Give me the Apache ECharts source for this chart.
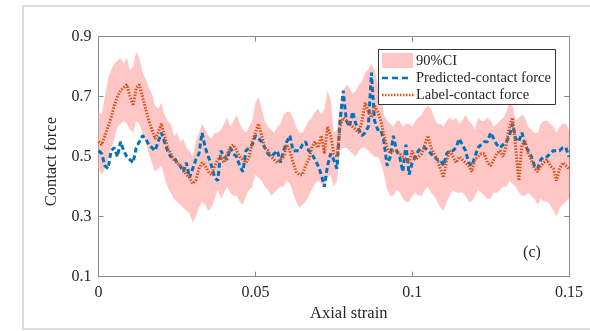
<!DOCTYPE html>
<html><head><meta charset="utf-8">
<script src="https://cdn.jsdelivr.net/npm/echarts@6/dist/echarts.min.js"></script>
<style>html,body{margin:0;padding:0;background:#fff}#c{width:590px;height:331px}</style>
</head><body><div id="c"></div>
<script>
// Axial strain sampled every 0.001 from 0 to 0.15
const STRAIN_STEP = 0.001;

const labelForce = [
0.55,0.54,0.57,0.60,0.63,0.67,0.70,0.72,0.73,0.74,0.70,0.67,0.73,0.74,0.70,0.66,0.62,0.59,0.56,0.58,0.61,0.57,0.53,0.51,0.49,0.48,0.47,0.46,0.44,0.43,0.41,0.42,0.46,0.48,0.47,0.45,0.44,0.47,
0.49,0.50,0.48,0.51,0.53,0.54,0.52,0.50,0.49,0.48,0.50,0.55,0.58,0.61,0.57,0.53,0.52,0.50,0.49,0.48,0.49,0.50,0.54,0.52,0.48,0.45,0.44,0.44,0.47,0.49,0.53,0.55,0.53,0.57,0.51,0.60,0.57,
0.51,0.50,0.60,0.63,0.62,0.61,0.60,0.59,0.58,0.62,0.68,0.65,0.63,0.67,0.65,0.62,0.57,0.53,0.51,0.52,0.52,0.51,0.50,0.49,0.48,0.52,0.49,0.50,0.51,0.54,0.57,0.53,0.51,0.49,0.46,0.43,0.49,0.52,
0.50,0.48,0.50,0.49,0.48,0.47,0.45,0.49,0.50,0.51,0.51,0.48,0.47,0.49,0.51,0.52,0.50,0.54,0.60,0.63,0.53,0.42,0.54,0.55,0.51,0.49,0.46,0.45,0.47,0.48,0.49,0.47,0.46,0.42,0.46,0.48,0.47,0.46
];

const predictedForce = [
0.52,0.51,0.47,0.46,0.52,0.53,0.50,0.55,0.52,0.50,0.49,0.48,0.53,0.55,0.57,0.56,0.54,0.53,0.52,0.55,0.58,0.55,0.52,0.50,0.50,0.48,0.47,0.45,0.48,0.43,0.46,0.49,0.51,0.58,0.53,0.50,0.47,0.43,
0.42,0.52,0.50,0.49,0.53,0.51,0.50,0.47,0.45,0.52,0.53,0.54,0.57,0.56,0.55,0.53,0.51,0.50,0.51,0.52,0.48,0.52,0.55,0.57,0.52,0.52,0.52,0.54,0.55,0.52,0.51,0.49,0.47,0.44,0.40,0.47,0.51,
0.49,0.46,0.62,0.72,0.62,0.60,0.65,0.61,0.59,0.57,0.58,0.60,0.78,0.62,0.59,0.59,0.55,0.47,0.50,0.57,0.52,0.50,0.45,0.54,0.44,0.48,0.50,0.52,0.53,0.53,0.52,0.51,0.50,0.49,0.49,0.47,0.51,0.52,
0.52,0.53,0.56,0.54,0.52,0.48,0.47,0.50,0.53,0.54,0.55,0.55,0.58,0.56,0.54,0.53,0.54,0.55,0.57,0.61,0.56,0.55,0.58,0.54,0.52,0.50,0.47,0.46,0.49,0.50,0.50,0.51,0.52,0.52,0.52,0.53,0.53,0.50
];

const ciUpper = [
0.65,0.64,0.70,0.76,0.79,0.81,0.82,0.83,0.81,0.83,0.79,0.80,0.85,0.83,0.78,0.76,0.73,0.71,0.67,0.66,0.68,0.64,0.62,0.61,0.57,0.58,0.55,0.56,0.53,0.52,0.50,0.55,0.58,0.61,0.59,0.57,0.56,0.58,
0.58,0.59,0.61,0.63,0.60,0.62,0.64,0.61,0.59,0.58,0.60,0.62,0.68,0.70,0.66,0.62,0.60,0.59,0.58,0.60,0.61,0.64,0.65,0.65,0.63,0.60,0.58,0.58,0.60,0.62,0.63,0.65,0.66,0.64,0.66,0.72,0.69,
0.58,0.59,0.67,0.72,0.74,0.73,0.71,0.72,0.74,0.75,0.78,0.79,0.81,0.79,0.74,0.70,0.64,0.62,0.61,0.60,0.62,0.62,0.60,0.61,0.61,0.60,0.62,0.63,0.64,0.66,0.67,0.66,0.63,0.61,0.61,0.60,0.62,0.63,
0.62,0.63,0.61,0.62,0.64,0.62,0.61,0.59,0.63,0.62,0.62,0.63,0.62,0.60,0.61,0.62,0.63,0.65,0.68,0.67,0.62,0.63,0.64,0.63,0.60,0.59,0.58,0.58,0.61,0.62,0.62,0.61,0.60,0.58,0.60,0.61,0.61,0.59
];

const ciLower = [
0.46,0.44,0.46,0.49,0.53,0.56,0.60,0.61,0.62,0.61,0.59,0.58,0.62,0.61,0.58,0.55,0.51,0.48,0.45,0.46,0.47,0.43,0.40,0.38,0.36,0.35,0.34,0.33,0.32,0.31,0.28,0.30,0.33,0.35,0.34,0.32,0.33,0.36,
0.39,0.36,0.38,0.40,0.38,0.37,0.37,0.35,0.34,0.37,0.39,0.40,0.44,0.43,0.42,0.40,0.39,0.37,0.38,0.39,0.40,0.40,0.42,0.41,0.38,0.35,0.33,0.34,0.35,0.37,0.39,0.41,0.42,0.41,0.40,0.43,0.44,
0.40,0.42,0.52,0.53,0.53,0.52,0.51,0.50,0.52,0.53,0.53,0.52,0.51,0.50,0.50,0.48,0.44,0.39,0.37,0.37,0.39,0.38,0.36,0.35,0.35,0.37,0.38,0.37,0.37,0.39,0.40,0.38,0.37,0.35,0.33,0.32,0.35,0.37,
0.39,0.38,0.38,0.38,0.37,0.35,0.35,0.37,0.39,0.38,0.37,0.36,0.36,0.38,0.38,0.39,0.40,0.40,0.42,0.41,0.40,0.38,0.37,0.37,0.38,0.37,0.36,0.34,0.36,0.35,0.35,0.34,0.32,0.30,0.33,0.34,0.35,0.36
];

const yTickValues = [0.1, 0.3, 0.5, 0.7, 0.9];
const legendLabels = ['90%CI', 'Predicted-contact force', 'Label-contact force'];

const FONT = 'Liberation Serif';
const TEXT = '#262626';
const AXIS = '#8a8a8a';
const CI_COLOR = '#ffc6c6';
const BLUE = '#0072bd';
const ORANGE = '#d95319';

const xs = labelForce.map((_, i) => +(i * STRAIN_STEP).toFixed(3));
const pairs = arr => xs.map((x, i) => [x, arr[i]]);

const chart = echarts.init(document.getElementById('c'), null, {renderer: 'canvas'});

const axisCommon = {
  axisLine: {show: true, onZero: false, lineStyle: {color: AXIS, width: 1}},
  axisTick: {show: true, inside: true, length: 5, lineStyle: {color: AXIS}},
  splitLine: {show: false}
};

function renderBand(params, api) {
  if (params.dataIndexInside !== 0) return null;
  const pts = [];
  for (let i = 0; i < xs.length; i++) pts.push(api.coord([xs[i], ciUpper[i]]));
  for (let i = xs.length - 1; i >= 0; i--) pts.push(api.coord([xs[i], ciLower[i]]));
  return {
    type: 'polygon',
    shape: {points: pts},
    style: {fill: CI_COLOR, stroke: null},
    silent: true
  };
}

chart.setOption({
  animation: false,
  backgroundColor: '#fff',
  grid: {left: 98.6, right: 21, top: 36.7, bottom: 54.3},
  xAxis: [
    Object.assign({}, axisCommon, {
      type: 'value', min: 0, max: 0.15, interval: 0.05, position: 'bottom',
      axisLabel: {color: TEXT, fontFamily: FONT, fontSize: 16, margin: 8},
      name: 'Axial strain', nameLocation: 'middle', nameGap: 24,
      nameTextStyle: {color: TEXT, fontFamily: FONT, fontSize: 16.5, padding: [0, 0, 0, 30]}
    }),
    Object.assign({}, axisCommon, {
      type: 'value', min: 0, max: 0.15, interval: 0.05, position: 'top',
      axisLabel: {show: false}
    })
  ],
  yAxis: [
    Object.assign({}, axisCommon, {
      type: 'value', min: 0.1, max: 0.9, interval: 0.1, position: 'left',
      axisTick: {show: true, inside: true, length: 5, lineStyle: {color: AXIS}, customValues: yTickValues},
      axisLabel: {color: TEXT, fontFamily: FONT, fontSize: 16, margin: 7, customValues: yTickValues},
      name: 'Contact force', nameLocation: 'middle', nameGap: 38,
      nameTextStyle: {color: TEXT, fontFamily: FONT, fontSize: 16.5, padding: [0, 10, 0, 0]}
    }),
    Object.assign({}, axisCommon, {
      type: 'value', min: 0.1, max: 0.9, interval: 0.1, position: 'right',
      axisTick: {show: true, inside: true, length: 5, lineStyle: {color: AXIS}, customValues: yTickValues},
      axisLabel: {show: false}
    })
  ],
  series: [
    {name: legendLabels[0], type: 'custom', renderItem: renderBand, data: [[0]],
     clip: true, silent: true, z: 1},
    {name: legendLabels[1], type: 'line', data: pairs(predictedForce), symbol: 'none',
     lineStyle: {color: BLUE, width: 3, type: [5, 3]}, z: 3},
    {name: legendLabels[2], type: 'line', data: pairs(labelForce), symbol: 'none',
     lineStyle: {color: ORANGE, width: 3, type: [1.5, 1.5]}, z: 4}
  ],
  graphic: [
    {type: 'rect', z: 0, silent: true, shape: {x: 23, y: 6, width: 600, height: 323},
     style: {fill: null, stroke: '#dcdcdc', lineWidth: 2}},
    {type: 'rect', z: 100, shape: {x: 378.5, y: 49.5, width: 177, height: 55},
     style: {fill: '#fff', stroke: '#333', lineWidth: 1}},
    {type: 'rect', z: 101, shape: {x: 382, y: 53, width: 31, height: 15},
     style: {fill: CI_COLOR}},
    {type: 'line', z: 101, shape: {x1: 382, y1: 78, x2: 410, y2: 78},
     style: {stroke: BLUE, lineWidth: 2.5, lineDash: [6, 4]}},
    {type: 'line', z: 101, shape: {x1: 382, y1: 95, x2: 414, y2: 95},
     style: {stroke: ORANGE, lineWidth: 2.5, lineDash: [1.5, 1.5]}},
    {type: 'text', z: 101, style: {x: 416, y: 61, text: legendLabels[0], fill: TEXT, font: '14.5px "Liberation Serif"', verticalAlign: 'middle'}},
    {type: 'text', z: 101, style: {x: 416, y: 78, text: legendLabels[1], fill: TEXT, font: '14.5px "Liberation Serif"', verticalAlign: 'middle'}},
    {type: 'text', z: 101, style: {x: 416, y: 95, text: legendLabels[2], fill: TEXT, font: '14.5px "Liberation Serif"', verticalAlign: 'middle'}},
    {type: 'text', z: 101, style: {x: 532, y: 253, text: '(c)', fill: TEXT, font: '16px "Liberation Serif"', align: 'center', verticalAlign: 'middle'}}
  ]
});
</script>
</body></html>
